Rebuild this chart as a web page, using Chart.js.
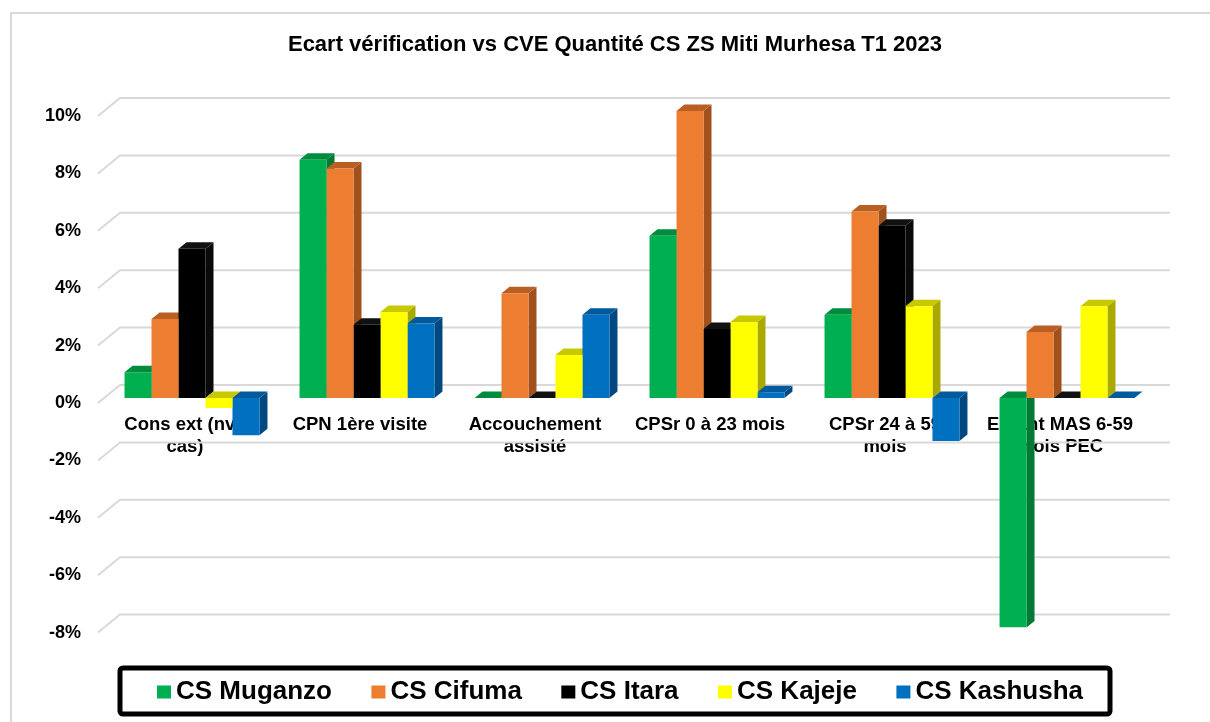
<!DOCTYPE html>
<html>
<head>
<meta charset="utf-8">
<script src="https://cdn.jsdelivr.net/npm/chart.js@4.4.1/dist/chart.umd.min.js"></script>
<style>
  html, body { margin: 0; padding: 0; background: #ffffff; }
  #wrap { position: relative; width: 1210px; height: 722px; }
</style>
</head>
<body>
<div id="wrap"><canvas id="chart" width="1210" height="722"></canvas></div>
<script>
// Indicators (x categories), wrapped onto two lines where needed
const categories = [
  ["Cons ext (nvx", "cas)"],
  "CPN 1ère visite",
  ["Accouchement", "assisté"],
  "CPSr 0 à 23 mois",
  ["CPSr 24 à 59", "mois"],
  ["Enfant MAS 6-59", "mois PEC"]
];

// Health centres (series)
const seriesNames = ["CS Muganzo", "CS Cifuma", "CS Itara", "CS Kajeje", "CS Kashusha"];

// Gap between verification and CVE, in percent
const muganzo  = [0.9, 8.3, 0, 5.65, 2.9, -8.0];
const cifuma   = [2.75, 8.0, 3.65, 10.0, 6.5, 2.3];
const itara    = [5.2, 2.55, 0, 2.4, 6.0, 0];
const kajeje   = [-0.35, 3.0, 1.5, 2.65, 3.2, 3.2];
const kashusha = [-1.3, 2.6, 2.9, 0.2, -1.5, 0];

// Value axis ticks (percent)
const yTicks = [-8, -6, -4, -2, 0, 2, 4, 6, 8, 10];

const chartTitle = "Ecart vérification vs CVE Quantité CS ZS Miti Murhesa T1 2023";

// Face colours of each series: front, top, right side
const frontColors = ["#00B050", "#ED7D31", "#000000", "#FFFF00", "#0070C0"];
const topColors   = ["#008C3E", "#B95F24", "#111111", "#C8C800", "#005A9C"];
const sideColors  = ["#007A35", "#A0511C", "#0A0A0A", "#A9A900", "#004880"];

const FONT = 'Arial, "Liberation Sans", sans-serif';

// Depth offsets of the pseudo-3D box
const FRONT_EDGE = { dx: -6.5, dy: 5 };
const BACK_WALL  = { dx: 15.5, dy: -13 };
const BAR_DEPTH  = { dx: 8, dy: -6.5 };

const seriesValues = [muganzo, cifuma, itara, kajeje, kashusha];

function poly(ctx, pts, fill) {
  ctx.beginPath();
  ctx.moveTo(pts[0][0], pts[0][1]);
  for (let i = 1; i < pts.length; i++) ctx.lineTo(pts[i][0], pts[i][1]);
  ctx.closePath();
  ctx.fillStyle = fill;
  ctx.fill();
}

// Outer frame, title, back wall grid, bar tops and sides, framed legend
const depthPlugin = {
  id: 'depth',
  beforeDraw(chart) {
    const ctx = chart.ctx;
    ctx.save();
    ctx.strokeStyle = '#d9d9d9';
    ctx.lineWidth = 2;
    ctx.strokeRect(11, 13, 1300, 800);
    ctx.fillStyle = '#000';
    ctx.font = 'bold 22px ' + FONT;
    ctx.textAlign = 'center';
    ctx.textBaseline = 'middle';
    ctx.fillText(chartTitle, 615, 45);
    ctx.restore();
  },
  beforeDatasetsDraw(chart) {
    const { ctx, chartArea: a, scales: { y } } = chart;
    ctx.save();
    ctx.strokeStyle = '#d9d9d9';
    ctx.lineWidth = 2;
    yTicks.forEach(v => {
      const py = y.getPixelForValue(v);
      ctx.beginPath();
      ctx.moveTo(a.left + FRONT_EDGE.dx, py + FRONT_EDGE.dy);
      ctx.lineTo(a.left + BACK_WALL.dx, py + BACK_WALL.dy);
      ctx.lineTo(a.right + BACK_WALL.dx, py + BACK_WALL.dy);
      ctx.stroke();
    });
    const metas = chart.data.datasets.map((d, i) => chart.getDatasetMeta(i));
    const n = chart.data.labels.length;
    for (let j = 0; j < n; j++) {
      metas.forEach((meta, i) => {
        const bar = meta.data[j];
        const p = bar.getProps(['x', 'y', 'base', 'width'], true);
        const x0 = p.x - p.width / 2, x1 = p.x + p.width / 2;
        const top = Math.min(p.y, p.base), bottom = Math.max(p.y, p.base);
        const dx = BAR_DEPTH.dx, dy = BAR_DEPTH.dy;
        poly(ctx, [[x1, top], [x1 + dx, top + dy], [x1 + dx, bottom + dy], [x1, bottom]], sideColors[i]);
        poly(ctx, [[x0, top], [x1, top], [x1 + dx, top + dy], [x0 + dx, top + dy]], topColors[i]);
      });
    }
    ctx.restore();
  },
  afterDraw(chart) {
    const ctx = chart.ctx;
    ctx.save();
    ctx.strokeStyle = '#000';
    ctx.lineWidth = 5;
    ctx.beginPath();
    ctx.roundRect(120, 668, 990, 46, 3);
    ctx.stroke();
    ctx.font = 'bold 26px ' + FONT;
    ctx.textBaseline = 'middle';
    const box = 14, gapBox = 5;
    const ds = chart.data.datasets;
    const widths = ds.map(d => ctx.measureText(d.label).width);
    const used = widths.reduce((s, w) => s + box + gapBox + w, 0);
    const start = 157, end = 1083;
    const gap = (end - start - used) / (ds.length - 1);
    let x = start;
    const cy = 692;
    ds.forEach((d, i) => {
      ctx.fillStyle = d.backgroundColor;
      ctx.fillRect(x, cy - 6.5, box, 13);
      ctx.fillStyle = '#000';
      ctx.fillText(d.label, x + box + gapBox, cy);
      x += box + gapBox + widths[i] + gap;
    });
    ctx.restore();
  }
};

new Chart(document.getElementById('chart'), {
  type: 'bar',
  data: {
    labels: categories,
    datasets: seriesNames.map((name, i) => ({
      label: name,
      data: seriesValues[i],
      backgroundColor: frontColors[i],
      borderWidth: 0,
      categoryPercentage: 0.771,
      barPercentage: 1
    }))
  },
  options: {
    responsive: false,
    animation: false,
    layout: { padding: { left: 14.5, right: 55.5, top: 111, bottom: 94.4 } },
    plugins: {
      legend: { display: false },
      tooltip: { enabled: false },
      title: { display: false }
    },
    scales: {
      x: {
        position: { y: 0 },
        z: 1,
        grid: { display: false, drawTicks: false },
        border: { display: false },
        ticks: {
          color: '#000',
          font: { family: FONT, size: 18.5, weight: 'bold' },
          padding: 16,
          labelOffset: -7,
          maxRotation: 0,
          autoSkip: false
        }
      },
      y: {
        min: -8,
        max: 10,
        afterBuildTicks(scale) { scale.ticks = yTicks.map(v => ({ value: v })); },
        afterFit(scale) { scale.width = 90; },
        grid: { display: false, drawTicks: false },
        border: { display: false },
        ticks: {
          color: '#000',
          font: { family: FONT, size: 18, weight: 'bold' },
          padding: 23.5,
          labelOffset: 5,
          callback: v => v + '%'
        }
      }
    }
  },
  plugins: [depthPlugin]
});
</script>
</body>
</html>
